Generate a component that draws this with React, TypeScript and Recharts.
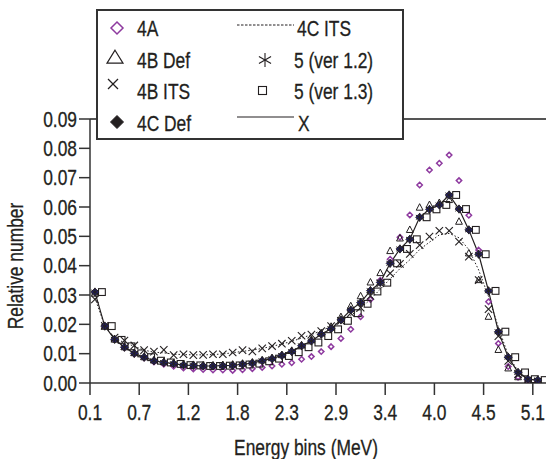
import React from 'react';
import { ComposedChart, Line, XAxis, YAxis, ReferenceLine } from 'recharts';

const FONT = "'Liberation Sans', Arial, sans-serif";
const FS = 22;
const SX = 0.79; // horizontal condensing to mimic a narrow typeface

// x axis: energy bins of 1/9 MeV from 0.1 to 5.1 MeV, labels every 5 bins
const tickBins = [0, 5, 10, 15, 20, 25, 30, 35, 40, 45];
const tickLabels = ['0.1', '0.7', '1.2', '1.8', '2.3', '2.9', '3.4', '4.0', '4.5', '5.1'];
const yTicks = [0, 0.01, 0.02, 0.03, 0.04, 0.05, 0.06, 0.07, 0.08, 0.09];

const s4A = [
  0.031, 0.0194, 0.0148, 0.012, 0.0099, 0.0085, 0.0072, 0.0064, 0.0057, 0.0051,
  0.0048, 0.0046, 0.0044, 0.0044, 0.0043, 0.0045, 0.0049, 0.0053, 0.0058, 0.0064,
  0.0069, 0.0081, 0.009, 0.0107, 0.0124, 0.0152, 0.0183, 0.0226, 0.0285, 0.035,
  0.0422, 0.0497, 0.0573, 0.0675, 0.0726, 0.0749, 0.0777, 0.069, 0.0572, 0.0453,
  0.0277, 0.0135, 0.0056, 0.002, 0.0008, 0.0004,
];
const s4BDef = [
  0.0305, 0.0192, 0.0148, 0.0122, 0.0102, 0.0088, 0.0077, 0.0071, 0.0067, 0.0063,
  0.0062, 0.006, 0.006, 0.0061, 0.0063, 0.0066, 0.007, 0.0077, 0.0085, 0.0095,
  0.011, 0.0128, 0.0147, 0.017, 0.0192, 0.0225, 0.0262, 0.0296, 0.0343, 0.0375,
  0.045, 0.0493, 0.0522, 0.0598, 0.0607, 0.0614, 0.0624, 0.055, 0.0442, 0.0351,
  0.0226, 0.0113, 0.005, 0.002, 0.0008, 0.0005,
];
const s4BITS = [
  0.0285, 0.0195, 0.0155, 0.0145, 0.0128, 0.0112, 0.0107, 0.0113, 0.0095, 0.0098,
  0.0095, 0.0096, 0.0098, 0.0098, 0.0104, 0.0112, 0.0108, 0.0118, 0.0126, 0.0134,
  0.0144, 0.0161, 0.0165, 0.0177, 0.0194, 0.0212, 0.0238, 0.0257, 0.0297, 0.034,
  0.0374, 0.0406, 0.044, 0.047, 0.0499, 0.0519, 0.0519, 0.0482, 0.0431, 0.0351,
  0.0252, 0.016, 0.0075, 0.003, 0.001, 0.0005,
];
const s4CDef = [
  0.031, 0.0194, 0.0149, 0.0122, 0.0101, 0.0088, 0.0076, 0.007, 0.0066, 0.0061,
  0.006, 0.0058, 0.0058, 0.0059, 0.006, 0.0064, 0.0068, 0.0076, 0.0083, 0.0094,
  0.0107, 0.0127, 0.0143, 0.0166, 0.0185, 0.0215, 0.0249, 0.0274, 0.0315, 0.0343,
  0.0408, 0.0457, 0.049, 0.0565, 0.0592, 0.0607, 0.0641, 0.0593, 0.0522, 0.0439,
  0.0314, 0.0175, 0.0088, 0.0036, 0.0013, 0.001,
];
const s4CITS = [
  0.029, 0.0195, 0.0152, 0.0138, 0.0125, 0.0112, 0.0105, 0.0103, 0.0098, 0.0097,
  0.0096, 0.0096, 0.0097, 0.0099, 0.0103, 0.0108, 0.0112, 0.0118, 0.0125, 0.0133,
  0.0142, 0.0153, 0.0165, 0.0178, 0.0193, 0.021, 0.023, 0.0255, 0.0285, 0.032,
  0.0355, 0.039, 0.042, 0.0455, 0.048, 0.0505, 0.051, 0.0495, 0.0455, 0.0385,
  0.0295, 0.019, 0.0095, 0.004, 0.0015, 0.0008,
];
const s5v12 = [
  0.031, 0.0194, 0.0149, 0.0122, 0.0101, 0.0088, 0.0076, 0.007, 0.0066, 0.0061,
  0.006, 0.0058, 0.0058, 0.0059, 0.006, 0.0064, 0.0068, 0.0076, 0.0083, 0.0094,
  0.0107, 0.0127, 0.0143, 0.0166, 0.0185, 0.0215, 0.0249, 0.0274, 0.0315, 0.0343,
  0.0408, 0.0457, 0.049, 0.0565, 0.0592, 0.0607, 0.0641, 0.0593, 0.0522, 0.0439,
  0.0314, 0.0175, 0.0088, 0.0036, 0.0013, 0.001,
];
const s5v13 = [
  0.031, 0.0194, 0.0147, 0.0125, 0.0101, 0.0088, 0.0076, 0.007, 0.0065, 0.0061,
  0.006, 0.0058, 0.0058, 0.0059, 0.006, 0.0063, 0.0066, 0.0074, 0.0083, 0.0092,
  0.0105, 0.0122, 0.0138, 0.016, 0.0183, 0.0212, 0.0238, 0.027, 0.0312, 0.0342,
  0.0408, 0.0457, 0.049, 0.0565, 0.0592, 0.0607, 0.0641, 0.0593, 0.0522, 0.0439,
  0.0314, 0.0175, 0.0088, 0.0036, 0.0013, 0.001,
];
const sX = [
  0.031, 0.0194, 0.0149, 0.0122, 0.0101, 0.0088, 0.0076, 0.007, 0.0066, 0.0061,
  0.006, 0.0058, 0.0058, 0.0059, 0.006, 0.0064, 0.0068, 0.0076, 0.0083, 0.0094,
  0.0107, 0.0127, 0.0143, 0.0166, 0.0185, 0.0215, 0.0249, 0.0274, 0.0315, 0.0343,
  0.0408, 0.0457, 0.049, 0.0565, 0.0592, 0.0607, 0.0641, 0.0593, 0.0522, 0.0439,
  0.0314, 0.0175, 0.0088, 0.0036, 0.0013, 0.001,
];

// points sit at bin centres
const data = s4A.map((_, i) => ({
  x: i + 0.5,
  a4: s4A[i],
  b4d: s4BDef[i],
  b4i: s4BITS[i],
  c4d: s4CDef[i],
  c4i: s4CITS[i],
  v12: s5v12[i],
  v13: s5v13[i],
  lx: sX[i],
}));

const PURPLE = '#8e3a9f';
const INK = '#231f20';
const NAVY = '#22206a';

const NText = ({
  x,
  y,
  anchor = 'start',
  rotate = 0,
  children,
}: {
  x: number;
  y: number;
  anchor?: 'start' | 'middle' | 'end';
  rotate?: number;
  children: React.ReactNode;
}) => (
  <g transform={`translate(${x},${y}) rotate(${rotate})`}>
    <text
      x={0}
      y={0}
      transform={`scale(${SX},1)`}
      textAnchor={anchor}
      fontFamily={FONT}
      fontSize={FS}
      fill={INK}
      stroke={INK}
      strokeWidth={0.3}
    >
      {children}
    </text>
  </g>
);

const diamond = (x: number, y: number, r: number) =>
  `${x},${y - r} ${x + r},${y} ${x},${y + r} ${x - r},${y}`;
const triangle = (x: number, y: number, w: number, h: number) =>
  `${x},${y - h * 0.6} ${x + w / 2},${y + h * 0.4} ${x - w / 2},${y + h * 0.4}`;

const Star = ({ x, y, r, sw }: { x: number; y: number; r: number; sw: number }) => {
  const c = r * Math.cos(Math.PI / 6);
  const s = r * Math.sin(Math.PI / 6);
  return (
    <g stroke={INK} strokeWidth={sw}>
      <line x1={x} y1={y - r} x2={x} y2={y + r} />
      <line x1={x - c} y1={y - s} x2={x + c} y2={y + s} />
      <line x1={x - c} y1={y + s} x2={x + c} y2={y - s} />
    </g>
  );
};
const Cross = ({ x, y, r, sw }: { x: number; y: number; r: number; sw: number }) => (
  <g stroke={INK} strokeWidth={sw}>
    <line x1={x - r} y1={y - r} x2={x + r} y2={y + r} />
    <line x1={x - r} y1={y + r} x2={x + r} y2={y - r} />
  </g>
);

const dotFn = (name: string, draw: (x: number, y: number) => React.ReactNode) => (p: any) => {
  const { cx, cy, index } = p;
  if (typeof cx !== 'number' || typeof cy !== 'number' || isNaN(cy)) return <g key={`${name}-${index}`} />;
  return <g key={`${name}-${index}`}>{draw(cx, cy)}</g>;
};

const dot4A = dotFn('a4', (x, y) => (
  <polygon points={diamond(x, y, 2.7)} fill="none" stroke={PURPLE} strokeWidth={1.5} />
));
const dot4BDef = dotFn('b4d', (x, y) => (
  <polygon points={triangle(x, y, 6.8, 6.5)} fill="none" stroke={INK} strokeWidth={1} />
));
const dot4BITS = dotFn('b4i', (x, y) => <Cross x={x} y={y} r={3.7} sw={1.1} />);
const dot4CDef = dotFn('c4d', (x, y) => (
  <polygon points={diamond(x, y, 4)} fill={NAVY} stroke={INK} strokeWidth={0.8} />
));
const dotV12 = dotFn('v12', (x, y) => <Star x={x} y={y} r={4.3} sw={1} />);
const dotV13 = dotFn('v13', (x, y) => (
  <rect x={x + 7 - 3.4} y={y - 3.4} width={6.8} height={6.8} fill="none" stroke={INK} strokeWidth={1.1} />
));

const XTick = (p: any) => (
  <NText x={p.x} y={p.y + 23} anchor="middle">
    {tickLabels[tickBins.indexOf(p.payload.value)] ?? ''}
  </NText>
);
const YTick = (p: any) => (
  <NText x={p.x} y={p.y + 7.8} anchor="end">
    {Number(p.payload.value).toFixed(2)}
  </NText>
);

const Legend = () => (
  <svg width={546} height={459} style={{ position: 'absolute', left: 0, top: 0, pointerEvents: 'none' }}>
    <rect x={97} y={10} width={306} height={129} fill="#fff" stroke="#333" strokeWidth={2} />
    <polygon points={diamond(117, 28, 6)} fill="none" stroke={PURPLE} strokeWidth={1.5} />
    <NText x={137} y={36}>4A</NText>
    <polygon points={triangle(115, 58, 16, 13)} fill="none" stroke={INK} strokeWidth={1.2} />
    <NText x={137} y={68}>4B Def</NText>
    <Cross x={113} y={84} r={5} sw={1.2} />
    <NText x={137} y={99}>4B ITS</NText>
    <polygon points={diamond(117, 122, 6.5)} fill={INK} stroke={INK} strokeWidth={1} />
    <NText x={137} y={131}>4C Def</NText>

    <line x1={237} y1={25} x2={294} y2={25} stroke={INK} strokeWidth={1} strokeDasharray="2.5 1.5" />
    <NText x={297} y={36}>4C ITS</NText>
    <Star x={265} y={60} r={7} sw={1.1} />
    <NText x={294} y={68}>5 (ver 1.2)</NText>
    <rect x={258.5} y={86.5} width={8} height={8} fill="none" stroke={INK} strokeWidth={1.1} />
    <NText x={294} y={99}>5 (ver 1.3)</NText>
    <line x1={237} y1={117} x2={294} y2={117} stroke={INK} strokeWidth={1.2} />
    <NText x={298} y={131}>X</NText>
  </svg>
);

export default function App() {
  return (
    <div style={{ position: 'absolute', left: 0, top: 0, width: 546, height: 459, overflow: 'hidden', background: '#fff' }}>
      <ComposedChart width={582} height={459} data={data} margin={{ top: 119, right: 0, bottom: 0, left: 0 }}>
        <XAxis
          type="number"
          dataKey="x"
          domain={[0, 50]}
          ticks={tickBins}
          interval={0}
          height={76}
          tickSize={12}
          tick={<XTick />}
          stroke="#333"
          strokeWidth={1.5}
          allowDataOverflow
          label={{ content: () => <NText x={306} y={455} anchor="middle">Energy bins (MeV)</NText> }}
        />
        <YAxis
          type="number"
          domain={[0, 0.09]}
          ticks={yTicks}
          interval={0}
          width={90}
          tickSize={11}
          tick={<YTick />}
          stroke="#333"
          strokeWidth={1.5}
          allowDataOverflow
          label={{ content: () => <NText x={23} y={266} anchor="middle" rotate={-90}>Relative number</NText> }}
        />
        <ReferenceLine y={0.09} stroke="#555" strokeWidth={2} />
        <Line dataKey="lx" stroke={INK} strokeWidth={1.2} dot={false} activeDot={false} isAnimationActive={false} />
        <Line dataKey="c4i" stroke={INK} strokeWidth={1} strokeDasharray="1.5 2" dot={false} activeDot={false} isAnimationActive={false} />
        <Line dataKey="a4" stroke="none" dot={dot4A} activeDot={false} isAnimationActive={false} />
        <Line dataKey="b4d" stroke="none" dot={dot4BDef} activeDot={false} isAnimationActive={false} />
        <Line dataKey="v13" stroke="none" dot={dotV13} activeDot={false} isAnimationActive={false} />
        <Line dataKey="b4i" stroke="none" dot={dot4BITS} activeDot={false} isAnimationActive={false} />
        <Line dataKey="c4d" stroke="none" dot={dot4CDef} activeDot={false} isAnimationActive={false} />
        <Line dataKey="v12" stroke="none" dot={dotV12} activeDot={false} isAnimationActive={false} />
      </ComposedChart>
      <Legend />
    </div>
  );
}
